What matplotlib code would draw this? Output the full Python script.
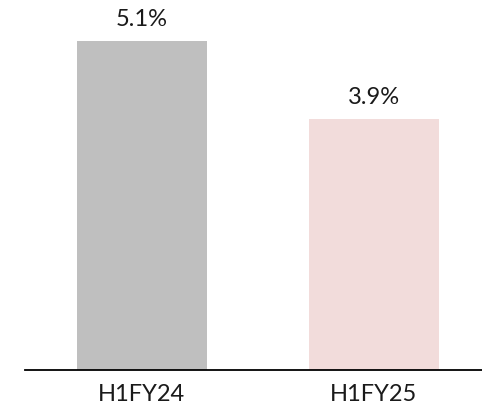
import matplotlib
matplotlib.use("Agg")
import matplotlib.pyplot as plt

categories = ["H1FY24", "H1FY25"]
values = [5.1, 3.9]
labels = ["5.1%", "3.9%"]
colors = ["#BFBFBF", "#F2DCDB"]

plt.rcParams['font.family'] = ['Lato', 'DejaVu Sans']

fig = plt.figure(figsize=(4.82, 4.12), dpi=100)
ax = fig.add_axes([25 / 482, 42 / 412, 457 / 482, 370 / 412])

x = range(len(categories))
ax.bar(x, values, width=0.56, color=colors)
for xi, v, lab in zip(x, values, labels):
    ax.text(xi, v + 0.17, lab, ha='center', va='bottom', fontsize=17, color='#1a1a1a')

ax.set_xlim(-0.504, 1.466)
ax.set_ylim(0, 5.74)
ax.set_xticks(list(x))
ax.set_xticklabels(categories, fontsize=17, color='#1a1a1a')
ax.tick_params(axis='x', length=0, pad=10)
ax.set_yticks([])
for s in ['top', 'right', 'left']:
    ax.spines[s].set_visible(False)
ax.spines['bottom'].set_linewidth(1.3)
ax.spines['bottom'].set_color('black')

fig.savefig("out.png", dpi=100)
